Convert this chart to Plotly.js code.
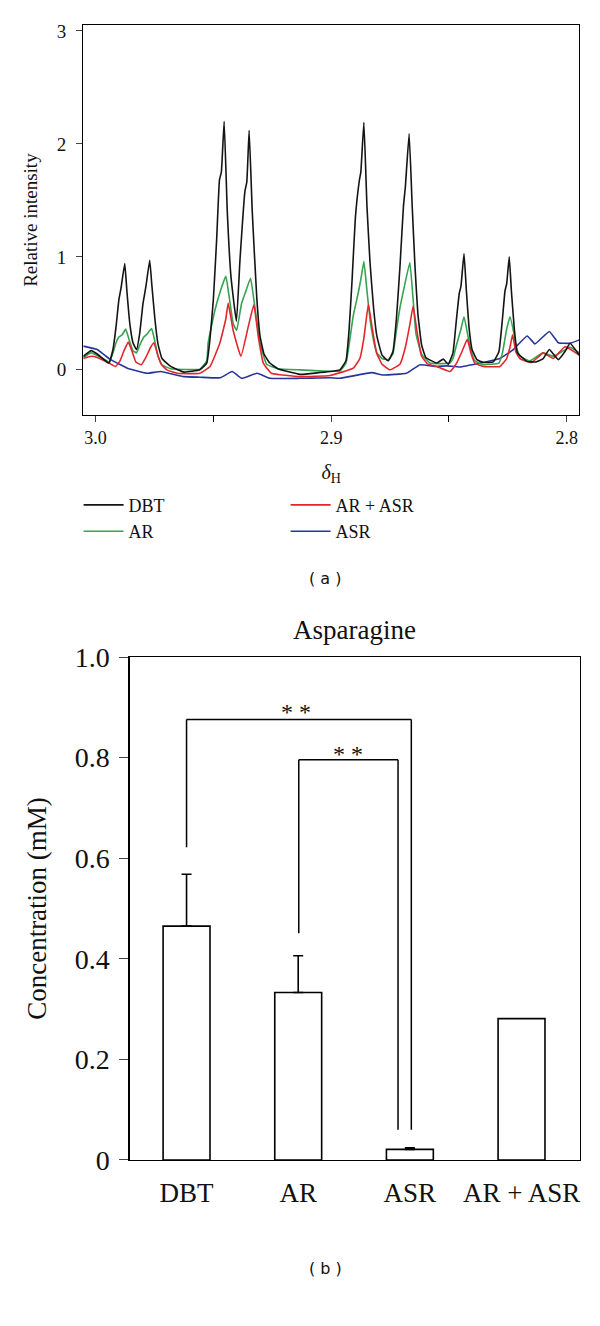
<!DOCTYPE html>
<html>
<head>
<meta charset="utf-8">
<script src="https://cdn.plot.ly/plotly-3.0.1.min.js"></script>
<style>
  body { margin: 0; background: #fff; }
  #chart { width: 600px; height: 1326px; }
</style>
</head>
<body>
<div id="chart"></div>
<script>
// (a) 1H NMR spectra, chemical shift (ppm) vs relative intensity
const dbtX = [3.0052, 3.0018, 2.9993, 2.9969, 2.9943, 2.9926, 2.9913, 2.9901, 2.9892, 2.9876, 2.9867, 2.9854, 2.9841, 2.9826, 2.9812, 2.9799, 2.9786, 2.9770, 2.9761, 2.9748, 2.9735, 2.9718, 2.9681, 2.9625, 2.9557, 2.9528, 2.9514, 2.9500, 2.9486, 2.9474, 2.9466, 2.9454, 2.9441, 2.9425, 2.9402, 2.9387, 2.9366, 2.9358, 2.9348, 2.9335, 2.9316, 2.9302, 2.9285, 2.9260, 2.9226, 2.9132, 2.9005, 2.8963, 2.8937, 2.8924, 2.8911, 2.8897, 2.8880, 2.8874, 2.8861, 2.8848, 2.8835, 2.8820, 2.8806, 2.8784, 2.8758, 2.8738, 2.8723, 2.8708, 2.8693, 2.8685, 2.8669, 2.8656, 2.8644, 2.8632, 2.8616, 2.8598, 2.8552, 2.8524, 2.8503, 2.8483, 2.8468, 2.8456, 2.8449, 2.8436, 2.8426, 2.8415, 2.8402, 2.8381, 2.8354, 2.8312, 2.8288, 2.8273, 2.8262, 2.8255, 2.8244, 2.8235, 2.8222, 2.8209, 2.8169, 2.8131, 2.8100, 2.8074, 2.8036, 2.8008, 2.7986, 2.7947];
const dbtY = [0.12, 0.17, 0.14, 0.10, 0.06, 0.18, 0.38, 0.62, 0.72, 0.94, 0.70, 0.40, 0.24, 0.18, 0.33, 0.58, 0.74, 0.97, 0.75, 0.45, 0.23, 0.10, 0.03, -0.02, 0.0, 0.06, 0.28, 0.62, 1.15, 1.68, 1.75, 2.20, 1.41, 0.82, 0.43, 0.97, 1.58, 1.66, 2.12, 1.41, 0.65, 0.30, 0.14, 0.06, 0.01, -0.04, -0.015, 0.0, 0.08, 0.35, 0.80, 1.35, 1.68, 1.75, 2.19, 1.45, 0.95, 0.55, 0.30, 0.13, 0.08, 0.16, 0.45, 0.91, 1.45, 1.62, 2.09, 1.45, 0.91, 0.50, 0.22, 0.11, 0.06, 0.095, 0.05, 0.15, 0.45, 0.68, 0.74, 1.03, 0.70, 0.38, 0.18, 0.09, 0.065, 0.07, 0.16, 0.45, 0.70, 0.76, 1.00, 0.70, 0.35, 0.15, 0.075, 0.07, 0.10, 0.18, 0.09, 0.16, 0.235, 0.13];

const arX = [3.0052, 3.0018, 2.9969, 2.9943, 2.9926, 2.9913, 2.9901, 2.9887, 2.9872, 2.9858, 2.9841, 2.9826, 2.9812, 2.9795, 2.9780, 2.9762, 2.9748, 2.9735, 2.9718, 2.9681, 2.9557, 2.9528, 2.9522, 2.9493, 2.9468, 2.9447, 2.9433, 2.9416, 2.9401, 2.9380, 2.9363, 2.9342, 2.9326, 2.9302, 2.9274, 2.9226, 2.9132, 2.8963, 2.8937, 2.8924, 2.8906, 2.8885, 2.8874, 2.8861, 2.8848, 2.8835, 2.8820, 2.8806, 2.8784, 2.8758, 2.8738, 2.8723, 2.8708, 2.8693, 2.8666, 2.8652, 2.8640, 2.8616, 2.8581, 2.8496, 2.8483, 2.8468, 2.8449, 2.8436, 2.8422, 2.8411, 2.8390, 2.8354, 2.8288, 2.8273, 2.8255, 2.8241, 2.8225, 2.8216, 2.8199, 2.8156, 2.8100, 2.8057, 2.7986, 2.7947];
const arY = [0.11, 0.15, 0.10, 0.07, 0.15, 0.24, 0.29, 0.31, 0.36, 0.27, 0.17, 0.15, 0.22, 0.29, 0.32, 0.365, 0.25, 0.12, 0.045, 0.01, 0.006, 0.08, 0.24, 0.53, 0.71, 0.83, 0.65, 0.41, 0.35, 0.59, 0.69, 0.81, 0.59, 0.24, 0.05, 0.01, 0.0, -0.01, 0.06, 0.22, 0.48, 0.68, 0.80, 0.96, 0.70, 0.45, 0.26, 0.15, 0.10, 0.09, 0.14, 0.35, 0.55, 0.70, 0.95, 0.62, 0.32, 0.14, 0.06, 0.06, 0.10, 0.22, 0.36, 0.47, 0.33, 0.21, 0.08, 0.045, 0.06, 0.15, 0.36, 0.47, 0.33, 0.21, 0.12, 0.08, 0.15, 0.12, 0.20, 0.15];

const arAsrX = [3.0052, 3.0018, 2.9993, 2.9943, 2.9915, 2.9896, 2.9879, 2.9861, 2.9846, 2.9829, 2.9806, 2.9784, 2.9766, 2.9752, 2.9737, 2.9722, 2.9697, 2.9653, 2.9557, 2.9514, 2.9472, 2.9447, 2.9437, 2.9416, 2.9383, 2.9352, 2.9328, 2.9309, 2.9288, 2.9253, 2.9132, 2.9005, 2.8906, 2.8878, 2.8861, 2.8842, 2.8828, 2.8807, 2.8784, 2.8750, 2.8708, 2.8685, 2.8666, 2.8652, 2.8635, 2.8616, 2.8589, 2.8552, 2.8496, 2.8470, 2.8445, 2.8422, 2.8407, 2.8390, 2.8354, 2.8284, 2.8255, 2.8241, 2.8230, 2.8216, 2.8199, 2.8149, 2.8100, 2.8057, 2.8008, 2.7947];
const arAsrY = [0.10, 0.12, 0.11, 0.06, 0.03, 0.08, 0.17, 0.245, 0.17, 0.07, 0.045, 0.12, 0.20, 0.24, 0.14, 0.05, 0.0, -0.03, -0.03, 0.03, 0.24, 0.45, 0.59, 0.35, 0.12, 0.38, 0.575, 0.29, 0.06, -0.03, -0.06, -0.05, 0.015, 0.10, 0.28, 0.58, 0.40, 0.15, 0.05, 0.0, 0.05, 0.20, 0.40, 0.565, 0.33, 0.12, 0.05, 0.03, -0.015, 0.05, 0.16, 0.27, 0.15, 0.06, 0.03, 0.03, 0.10, 0.20, 0.31, 0.16, 0.10, 0.065, 0.15, 0.10, 0.205, 0.13];

const asrX = [3.0052, 2.9993, 2.9936, 2.9865, 2.9781, 2.9724, 2.9625, 2.9557, 2.9470, 2.9420, 2.9380, 2.9314, 2.9260, 2.9132, 2.9005, 2.8963, 2.8828, 2.8779, 2.8680, 2.8623, 2.8552, 2.8510, 2.8453, 2.8368, 2.8284, 2.8227, 2.8168, 2.8135, 2.8074, 2.8036, 2.7986, 2.7947];
const asrY = [0.21, 0.18, 0.09, 0.015, -0.03, -0.015, -0.06, -0.065, -0.07, -0.015, -0.075, -0.03, -0.075, -0.075, -0.07, -0.075, -0.025, -0.045, -0.03, 0.045, 0.03, 0.035, 0.025, 0.06, 0.10, 0.18, 0.30, 0.23, 0.34, 0.24, 0.235, 0.265];

const shiftTicks = [3.0, 2.9, 2.8];
const shiftTickText = ['3.0', '2.9', '2.8'];
const shiftMinorTicks = [2.95, 2.85];
const intensityTicks = [0, 1, 2, 3];

// (b) asparagine concentration
const groups = ['DBT', 'AR', 'ASR', 'AR + ASR'];
const conc = [0.465, 0.333, 0.021, 0.281];
const concErr = [0.103, 0.073, 0.003];  // no error bar on AR + ASR
const concTicks = [0, 0.2, 0.4, 0.6, 0.8, 1.0];
const concTickText = ['0', '0.2', '0.4', '0.6', '0.8', '1.0'];

const serif = '"Liberation Serif", "Times New Roman", serif';

const spectra = [
  { name: 'ASR', x: asrX, y: asrY, color: '#27359a', rank: 4 },
  { name: 'AR', x: arX, y: arY, color: '#34a352', rank: 3 },
  { name: 'AR + ASR', x: arAsrX, y: arAsrY, color: '#e3262c', rank: 2 },
  { name: 'DBT', x: dbtX, y: dbtY, color: '#141414', rank: 1 }
];

const data = spectra.map(s => ({
  type: 'scatter',
  mode: 'lines',
  x: s.x,
  y: s.y,
  name: s.name,
  legendrank: s.rank,
  line: { color: s.color, width: 1.6, shape: 'spline', smoothing: 0.35 },
  xaxis: 'x',
  yaxis: 'y'
}));

data.push({
  type: 'bar',
  x: groups,
  y: conc,
  width: 0.42,
  showlegend: false,
  marker: { color: '#fff', line: { color: '#000', width: 1.6 } },
  xaxis: 'x2',
  yaxis: 'y2'
});

// upward error bars only, on the first three groups
data.push({
  type: 'scatter',
  mode: 'markers',
  x: groups.slice(0, concErr.length),
  y: conc.slice(0, concErr.length),
  marker: { size: 1, color: 'rgba(0,0,0,0)' },
  showlegend: false,
  error_y: {
    type: 'data',
    symmetric: false,
    array: concErr,
    arrayminus: concErr.map(() => 0),
    color: '#000',
    thickness: 1.6,
    width: 5
  },
  xaxis: 'x2',
  yaxis: 'y2'
});

// significance brackets: [left x, left foot, top, right x, right foot]
const brackets = [
  [0, 0.622, 0.876, 2.013, 0.06],
  [1.005, 0.451, 0.796, 1.894, 0.06]
];
const shapes = [];
brackets.forEach(b => {
  const ln = { color: '#000', width: 1.5 };
  shapes.push({ type: 'line', xref: 'x2', yref: 'y2', x0: b[0], x1: b[0], y0: b[1], y1: b[2], line: ln });
  shapes.push({ type: 'line', xref: 'x2', yref: 'y2', x0: b[0], x1: b[3], y0: b[2], y1: b[2], line: ln });
  shapes.push({ type: 'line', xref: 'x2', yref: 'y2', x0: b[3], x1: b[3], y0: b[2], y1: b[4], line: ln });
});

const axisLine = { showline: true, mirror: true, linecolor: '#000', linewidth: 1.3, showgrid: false, zeroline: false };

const layout = {
  width: 600,
  height: 1326,
  margin: { l: 0, r: 0, t: 0, b: 0 },
  paper_bgcolor: '#fff',
  plot_bgcolor: '#fff',
  font: { family: serif, color: '#111' },
  showlegend: true,
  legend: {
    orientation: 'h',
    x: 0.131,
    y: 0.633,
    xanchor: 'left',
    yanchor: 'top',
    itemwidth: 40,
    entrywidth: 152,
    entrywidthmode: 'pixels',
    traceorder: 'normal',
    font: { family: serif, size: 18, color: '#111' }
  },
  xaxis: Object.assign({}, axisLine, {
    domain: [0.1388, 0.965],
    anchor: 'y',
    range: [3.0052, 2.7948],
    tickmode: 'array',
    tickvals: shiftTicks,
    ticktext: shiftTickText,
    ticks: 'outside',
    ticklen: 6,
    minor: { tickmode: 'array', tickvals: shiftMinorTicks, ticks: 'outside', ticklen: 6, tickcolor: '#000', showgrid: false },
    tickfont: { family: serif, size: 18 },
    title: { text: '<i>δ</i><sub>H</sub>', font: { family: serif, size: 20 }, standoff: 18 }
  }),
  yaxis: Object.assign({}, axisLine, {
    domain: [0.687, 0.981],
    anchor: 'x',
    range: [-0.40, 3.05],
    tickmode: 'array',
    tickvals: intensityTicks,
    ticks: 'outside',
    ticklen: 6,
    ticklabelstandoff: 6,
    tickfont: { family: serif, size: 19 },
    title: { text: 'Relative intensity', font: { family: serif, size: 19 }, standoff: 14 }
  }),
  xaxis2: Object.assign({}, axisLine, {
    domain: [0.216, 0.966],
    anchor: 'y2',
    type: 'category',
    range: [-0.51, 3.52],
    ticks: '',
    ticklabelstandoff: 8,
    tickfont: { family: serif, size: 27 }
  }),
  yaxis2: Object.assign({}, axisLine, {
    domain: [0.1252, 0.5045],
    anchor: 'x2',
    range: [0, 1],
    tickmode: 'array',
    tickvals: concTicks,
    ticktext: concTickText,
    ticks: 'outside',
    ticklen: 9,
    ticklabelstandoff: 4,
    tickfont: { family: serif, size: 28 },
    title: { text: 'Concentration (mM)', font: { family: serif, size: 27 }, standoff: 20 }
  }),
  shapes: shapes,
  annotations: [
    { text: '( a )', xref: 'paper', yref: 'paper', x: 0.542, y: 1 - 578 / 1326, yanchor: 'middle', showarrow: false,
      font: { family: 'DejaVu Sans, sans-serif', size: 16, color: '#111' } },
    { text: 'Asparagine', xref: 'paper', yref: 'paper', x: 0.591, y: 1 - 630 / 1326, yanchor: 'middle', showarrow: false,
      font: { family: serif, size: 27, color: '#111' } },
    { text: '* *', xref: 'x2', yref: 'y2', x: 0.98, y: 0.89, showarrow: false,
      font: { family: serif, size: 24, color: '#111' } },
    { text: '* *', xref: 'x2', yref: 'y2', x: 1.45, y: 0.807, showarrow: false,
      font: { family: serif, size: 24, color: '#111' } },
    { text: '( b )', xref: 'paper', yref: 'paper', x: 0.542, y: 1 - 1268 / 1326, yanchor: 'middle', showarrow: false,
      font: { family: 'DejaVu Sans, sans-serif', size: 16, color: '#111' } }
  ]
};

Plotly.newPlot('chart', data, layout, { displayModeBar: false, staticPlot: true });
</script>
</body>
</html>
